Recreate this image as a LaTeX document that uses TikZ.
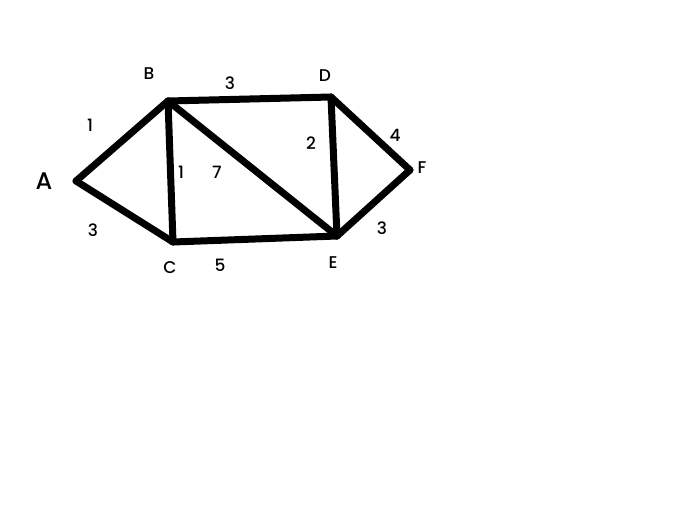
\documentclass[tikz,border=0pt]{standalone}
\usepackage{fontspec}
\setmainfont{Poppins}[UprightFont=* Medium]
\begin{document}
\begin{tikzpicture}[x=1pt,y=-1pt,
  edge/.style={line width=7pt,line cap=round,line join=round},
  vlabel/.style={font=\fontsize{17}{17}\selectfont,inner sep=0pt},
  wlabel/.style={font=\fontsize{17}{17}\selectfont,inner sep=0pt}]
\useasboundingbox (0,0) rectangle (678,515);
\coordinate (A) at (76,181);
\coordinate (B) at (168,101);
\coordinate (C) at (173,242);
\coordinate (D) at (331,97);
\coordinate (E) at (337,236);
\coordinate (F) at (410,170);
\draw[edge] (A) -- (B);
\draw[edge] (A) -- (C);
\draw[edge] (B) -- (C);
\draw[edge] (B) -- (D);
\draw[edge] (B) -- (E);
\draw[edge] (C) -- (E);
\draw[edge] (D) -- (E);
\draw[edge] (D) -- (F);
\draw[edge] (E) -- (F);
\node[vlabel,font=\fontsize{24}{24}\selectfont] (lA) at (44,181) {A};
\node[vlabel] (lB) at (149,74) {B};
\node[vlabel] (lC) at (170,268) {C};
\node[vlabel] (lD) at (325,76) {D};
\node[vlabel] (lE) at (333,263) {E};
\node[vlabel] (lF) at (422,168) {F};
\node[wlabel] (wAB) at (90,125) {1};
\node[wlabel] (wAC) at (93,230) {3};
\node[wlabel] (wBC) at (181,172) {1};
\node[wlabel] (wBE) at (217,172) {7};
\node[wlabel] (wBD) at (230,83) {3};
\node[wlabel] (wCE) at (220,265) {5};
\node[wlabel] (wDE) at (311,143) {2};
\node[wlabel] (wDF) at (395,135) {4};
\node[wlabel] (wEF) at (382,228) {3};
\end{tikzpicture}
\end{document}
